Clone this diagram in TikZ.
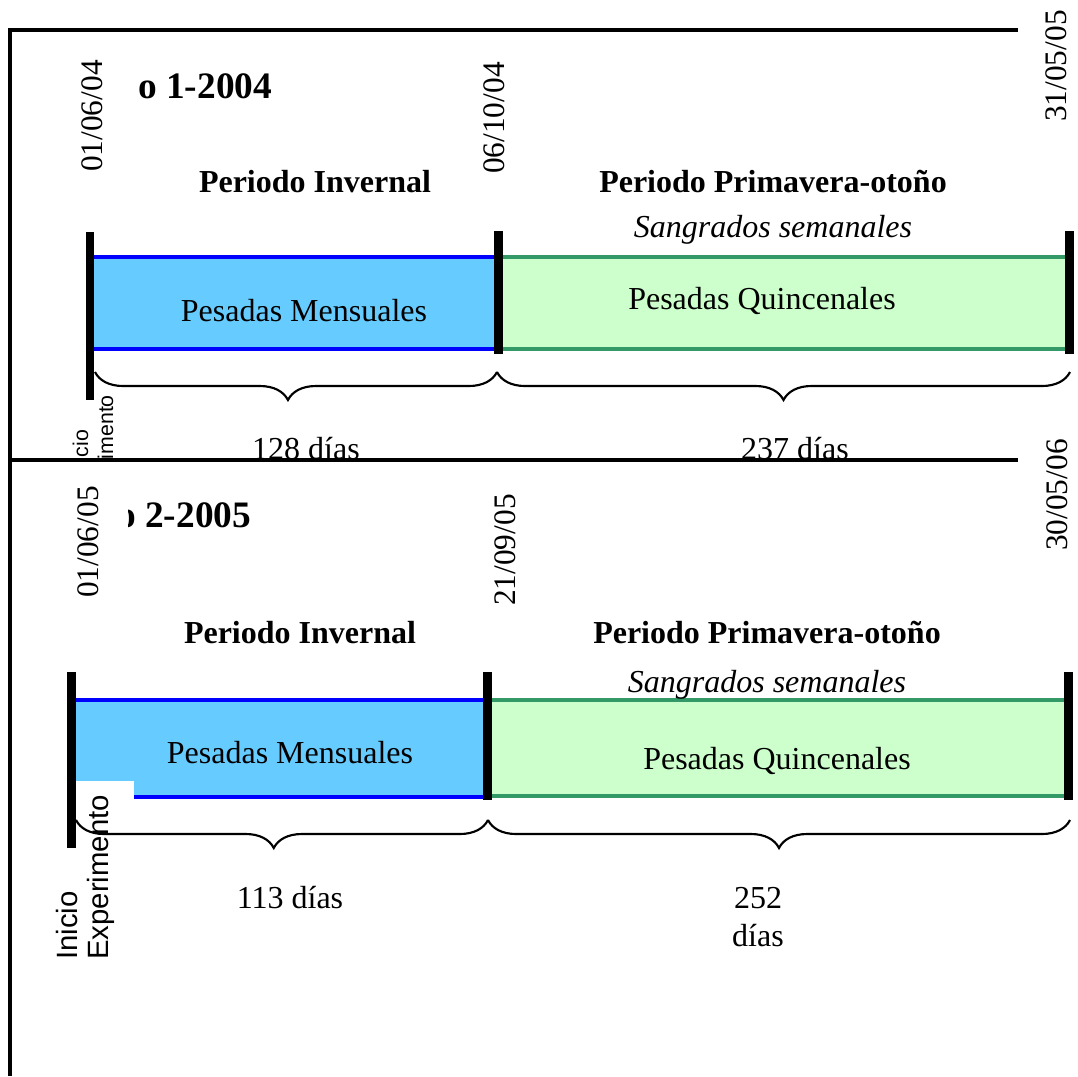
\documentclass[tikz,border=0pt]{standalone}
\usepackage{fontspec}
\setmainfont{Liberation Serif}
\setsansfont{Liberation Sans}
\usetikzlibrary{decorations.pathreplacing}
\definecolor{celeste}{RGB}{102,204,255}
\definecolor{verdeclaro}{RGB}{204,255,204}
\definecolor{verdeborde}{RGB}{51,153,102}
\tikzset{
  fecha/.style={rotate=90,inner sep=0,anchor=center,font=\fontsize{23.5}{27}\selectfont},
  anio/.style={inner sep=0,anchor=base west,font=\bfseries\fontsize{28}{32}\selectfont},
  periodo/.style={inner sep=0,anchor=base,font=\bfseries\fontsize{24}{28}\selectfont},
  texto/.style={inner sep=0,anchor=base,font=\fontsize{24}{29}\selectfont},
  llave/.style={decorate,decoration={brace,mirror,amplitude=21pt,aspect=#1},line width=1.6pt},
  llave/.default=0.5,
  borde/.style={line width=2.4pt},
}
\begin{document}
\begin{tikzpicture}[x=0.75pt,y=-0.75pt]
    \useasboundingbox (0,0) rectangle (1078,1076);
    % marco
    \draw[line width=2.6pt] (1018,30) -- (10,30) -- (10,1076);
    \draw[line width=2.6pt] (10,460) -- (1018,460);

    % ----- 2004 -----
    \fill[celeste] (90,257) rectangle (498,349);
    \draw[borde,blue] (90,257) -- (498,257) (90,349) -- (498,349);
    \fill[verdeclaro] (498,257) rectangle (1070,349);
    \draw[borde,verdeborde] (498,257) -- (1070,257) (498,349) -- (1070,349);
    \fill (86,232) rectangle (94,400);
    \fill (494,231) rectangle (503,354);
    \fill (1065,231) rectangle (1074,354);
    \coordinate (a0) at (95,372);
    \coordinate (a1) at (497,372);
    \coordinate (a2) at (1070,372);
    \draw[llave=0.48] (a0) -- (a1);
    \draw[llave] (a1) -- (a2);
    \node[fecha] (fa0) at (92,116) {01/06/04};
    \node[fecha] (fa1) at (494,118) {06/10/04};
    \node[fecha] (fa2) at (1056,66) {31/05/05};
    \node[anio] (anioA) at (138,98) {o 1-2004};
    \node[periodo] (invA) at (315,192) {Periodo Invernal};
    \node[periodo] (primA) at (773,192) {Periodo Primavera-otoño};
    \node[texto] (sangA) at (773,237) {\itshape Sangrados semanales};
    \node[texto] (mensA) at (304,321) {Pesadas Mensuales};
    \node[texto] (quinA) at (762,309) {Pesadas Quincenales};
    \node[texto] (diasA1) at (306,459) {128 días};
    \node[texto] (diasA2) at (795,459) {237 días};
    \begin{scope}
        \clip (0,0) rectangle (1078,457);
        \node[rotate=90,inner sep=0,anchor=base,font=\sffamily\fontsize{16}{19}\selectfont] (iniA1) at (88,455) {Inicio};
        \node[rotate=90,inner sep=0,anchor=base,font=\sffamily\fontsize{16}{19}\selectfont] (iniA2) at (113,455) {Experimento};
    \end{scope}

    % ----- 2005 -----
    \fill[celeste] (72,700) rectangle (488,797);
    \draw[borde,blue] (72,700) -- (488,700) (72,797) -- (488,797);
    \fill[verdeclaro] (488,700) rectangle (1068,796);
    \draw[borde,verdeborde] (488,700) -- (1068,700) (488,796) -- (1068,796);
    \fill[white] (76,781) rectangle (134,800);
    \fill (67,672) rectangle (76,848);
    \fill (483,672) rectangle (492,800);
    \fill (1064,672) rectangle (1073,800);
    \coordinate (b0) at (76,820);
    \coordinate (b1) at (488,820);
    \coordinate (b2) at (1070,820);
    \draw[llave=0.48] (b0) -- (b1);
    \draw[llave] (b1) -- (b2);
    \node[fecha] (fb0) at (88,542) {01/06/05};
    \node[fecha] (fb1) at (505,550) {21/09/05};
    \node[fecha] (fb2) at (1057,495) {30/05/06};
    \begin{scope}
        \clip (128,480) rectangle (400,560);
        \node[anio] (anioB) at (117,527) {o 2-2005};
    \end{scope}
    \node[periodo] (invB) at (300,643) {Periodo Invernal};
    \node[periodo] (primB) at (767,643) {Periodo Primavera-otoño};
    \node[texto] (sangB) at (767,692) {\itshape Sangrados semanales};
    \node[texto] (mensB) at (290,763) {Pesadas Mensuales};
    \node[texto] (quinB) at (777,769) {Pesadas Quincenales};
    \node[texto] (diasB1) at (290,908) {113 días};
    \node[texto,align=center,anchor=center] (diasB2) at (758,917) {252\\días};
    \node[rotate=90,inner sep=0,anchor=base west,font=\sffamily\fontsize{22}{26}\selectfont] (iniB1) at (77,960) {Inicio};
    \node[rotate=90,inner sep=0,anchor=base west,font=\sffamily\fontsize{22}{26}\selectfont] (iniB2) at (108,960) {Experimento};
\end{tikzpicture}
\end{document}
